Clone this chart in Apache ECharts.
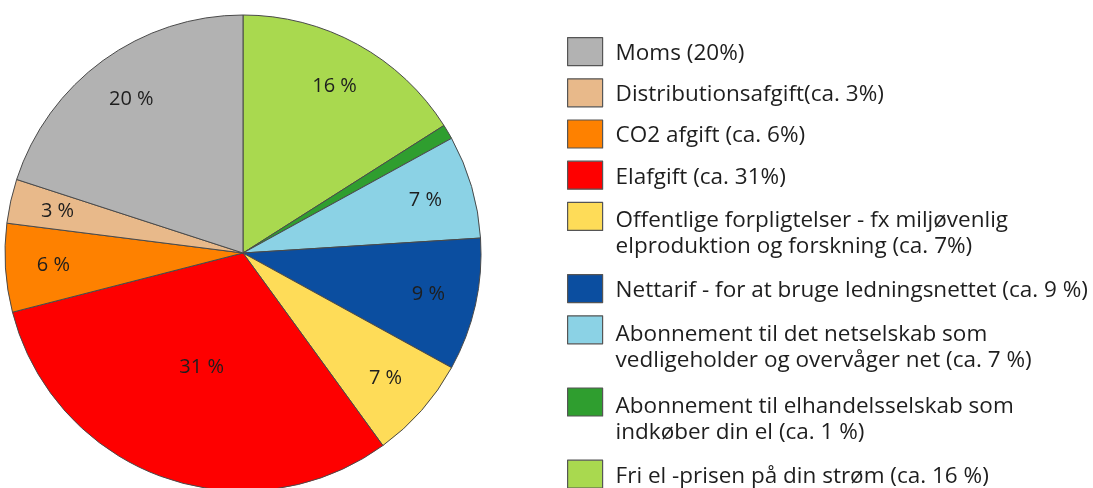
<!DOCTYPE html>
<html>
<head>
<meta charset="utf-8">
<script src="https://cdn.jsdelivr.net/npm/echarts@6/dist/echarts.min.js"></script>
<style>
  html, body { margin: 0; padding: 0; background: #fff; }
  #chart { width: 1093px; height: 488px; }
</style>
</head>
<body>
<div id="chart"></div>
<script>
// slices, clockwise from 12 o'clock
const names = [
  'Fri el -prisen på din strøm (ca. 16 %)',
  'Abonnement til elhandelsselskab som\nindkøber din el (ca. 1 %)',
  'Abonnement til det netselskab som\nvedligeholder og overvåger net (ca. 7 %)',
  'Nettarif - for at bruge ledningsnettet (ca. 9 %)',
  'Offentlige forpligtelser - fx miljøvenlig\nelproduktion og forskning (ca. 7%)',
  'Elafgift (ca. 31%)',
  'CO2 afgift (ca. 6%)',
  'Distributionsafgift(ca. 3%)',
  'Moms (20%)'
];
const values = [16, 1, 7, 9, 7, 31, 6, 3, 20];
const colors = ['#a9d94f', '#2f9e2f', '#8bd2e5', '#0b4ea0', '#fedc58', '#fe0000', '#fe8100', '#e8b98a', '#b2b2b2'];

const chart = echarts.init(document.getElementById('chart'));

const square = 'path://M0 0H35V28H0Z';
// same square, but the box is stretched down so the icon sits on the first text line
const squareTop = 'path://M0 0H35V28H0ZM0 59';

const pieData = names.map((n, i) => ({ name: n, value: values[i], itemStyle: { color: colors[i] } }));

const labelFont = {
  fontFamily: 'Open Sans',
  fontSize: 20,
  color: '#1e1e1e'
};

const option = {
  backgroundColor: '#fff',
  animation: false,
  legend: {
    orient: 'vertical',
    left: 567,
    top: 37,
    height: 470,
    padding: 0,
    itemGap: 12,
    itemWidth: 35,
    itemHeight: 59,
    symbolKeepAspect: true,
    selectedMode: false,
    itemStyle: { borderColor: '#555', borderWidth: 1.2 },
    formatter: name => name.split('\n').map(l => '{t|' + l + '}').join('\n'),
    textStyle: {
      padding: [4, 0, 0, 8],
      rich: {
        t: {
          fontFamily: 'Open Sans',
          fontSize: 22.5,
          lineHeight: 26,
          color: '#1e1e1e'
        }
      }
    },
    data: names.slice().reverse().map(n => ({
      name: n,
      icon: n.indexOf('\n') >= 0 ? squareTop : square
    }))
  },
  series: [
    {
      type: 'pie',
      center: [243, 253],
      radius: 238,
      startAngle: 90,
      clockwise: true,
      avoidLabelOverlap: false,
      itemStyle: { borderColor: '#4a4a4a', borderWidth: 1 },
      label: Object.assign({
        show: true,
        position: 'inside',
        formatter: p => (p.value >= 30 ? p.value + ' %' : '')
      }, labelFont),
      labelLine: { show: false },
      emphasis: { disabled: true },
      data: pieData
    },
    {
      // label ring for the smaller slices
      type: 'pie',
      center: [243, 253],
      radius: [136, 238],
      startAngle: 90,
      clockwise: true,
      silent: true,
      avoidLabelOverlap: false,
      itemStyle: { color: 'rgba(0,0,0,0)', borderWidth: 0 },
      label: Object.assign({
        show: true,
        position: 'inside',
        formatter: p => (p.value >= 30 || p.value < 2 ? '' : p.value + ' %')
      }, labelFont),
      labelLine: { show: false },
      emphasis: { disabled: true },
      data: names.map((n, i) => ({ name: n, value: values[i] }))
    }
  ]
};

chart.setOption(option);
</script>
</body>
</html>
